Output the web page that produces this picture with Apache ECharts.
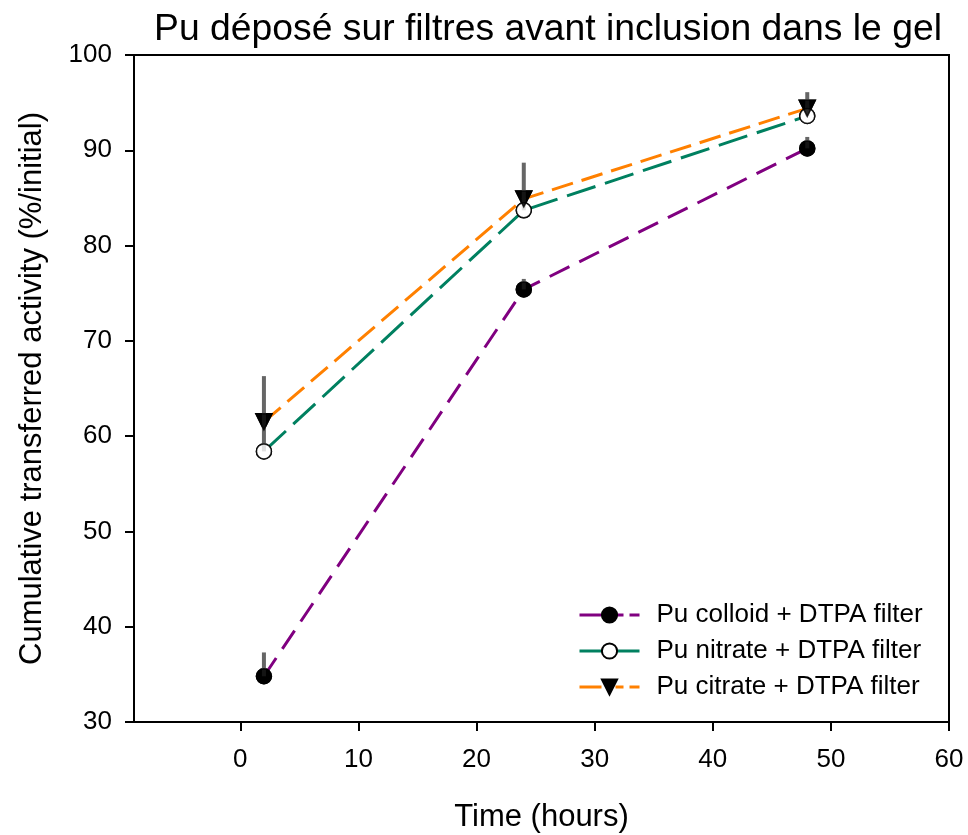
<!DOCTYPE html>
<html><head><meta charset="utf-8">
<script src="https://cdn.jsdelivr.net/npm/echarts@6/dist/echarts.min.js"></script>
<style>html,body{margin:0;padding:0;background:#fff}#c{width:968px;height:835px}</style>
</head><body><div id="c"></div>
<script>
const times = [2, 24, 48];
const colloid = [34.8, 75.4, 90.2];
const colloidErr = [37.3, 76.5, 91.4];
const nitrate = [58.4, 83.7, 93.6];
const nitrateErr = [62.0, 85.0, 94.8];
const citrate = [61.5, 84.9, 94.4];
const citrateErr = [66.3, 88.7, 96.1];
const xTicks = [0, 10, 20, 30, 40, 50, 60];
const names = ['Pu colloid + DTPA filter', 'Pu nitrate + DTPA filter', 'Pu citrate + DTPA filter'];

const FONT = 'Liberation Sans, Arial, sans-serif';
const pairs = (ys) => times.map((t, i) => [t, ys[i]]);
const errData = [];
[[colloid, colloidErr], [nitrate, nitrateErr], [citrate, citrateErr]].forEach(([v, e]) => {
  times.forEach((t, i) => errData.push([t, v[i], e[i]]));
});

const chart = echarts.init(document.getElementById('c'));
const lineStyles = [
  {color: '#800080', width: 3, type: [22, 11]},
  {color: '#008060', width: 3, type: [30, 10]},
  {color: '#FF8000', width: 3, type: [22, 9]}
];
const legendDash = [[22, 14, 8, 6], [24, 12], [22, 14, 8, 6]];
const symbols = ['circle', 'circle', 'triangle'];
const symFill = ['#000', '#fff', '#000'];
const datas = [colloid, nitrate, citrate];

const series = [];
datas.forEach((d, k) => {
  series.push({
    name: names[k], type: 'line', data: pairs(d), z: 1,
    lineStyle: lineStyles[k], itemStyle: {color: symFill[k], borderColor: '#000', borderWidth: 1.5},
    symbol: symbols[k], symbolSize: k === 2 ? 16 : 15, symbolRotate: k === 2 ? 180 : 0,
    color: lineStyles[k].color
  });
});
series.push({
  type: 'custom', name: 'err', z: 2, data: errData,
  renderItem: (params, api) => {
    const p0 = api.coord([api.value(0), api.value(1)]);
    const p1 = api.coord([api.value(0), api.value(2)]);
    return {type: 'line', shape: {x1: p0[0], y1: p0[1], x2: p1[0], y2: p1[1]}, style: {stroke: '#666', lineWidth: 4}};
  }
});
datas.forEach((d, k) => {
  series.push({
    name: 'm' + k, type: 'scatter', data: pairs(d), z: 3,
    symbol: symbols[k], symbolSize: k === 2 ? 16 : 15, symbolRotate: k === 2 ? 180 : 0,
    itemStyle: {color: symFill[k], borderColor: '#000', borderWidth: 1.5}
  });
});

chart.setOption({
  animation: false,
  title: {text: 'Pu déposé sur filtres avant inclusion dans le gel', left: 543, textAlign: 'center', top: 6,
    textStyle: {fontFamily: FONT, fontSize: 37.3, fontWeight: 'normal', color: '#000'}},
  grid: {left: 134, right: 19, top: 55, bottom: 113, show: true, borderColor: '#000', borderWidth: 2,
    backgroundColor: 'transparent', outerBoundsMode: 'none', containLabel: false},
  legend: {data: names.map((n, k) => ({name: n, lineStyle: {type: legendDash[k], width: 3, color: lineStyles[k].color}})),
    orient: 'vertical', left: 578, top: 602, padding: 0, itemGap: 10, itemWidth: 60, itemHeight: 19,
    textStyle: {fontFamily: FONT, fontSize: 26, color: '#000', padding: [0, 0, 0, 12]}},
  xAxis: {type: 'value', min: -9, max: 60, name: 'Time (hours)', nameLocation: 'middle', nameGap: 80,
    nameTextStyle: {fontFamily: FONT, fontSize: 31, color: '#000'},
    axisLine: {onZero: false, lineStyle: {color: '#000', width: 2}},
    axisTick: {show: true, length: 9, customValues: xTicks, lineStyle: {color: '#000', width: 2}},
    axisLabel: {customValues: xTicks, margin: 25, fontFamily: FONT, fontSize: 26, color: '#000'},
    splitLine: {show: false}},
  yAxis: {type: 'value', min: 30, max: 100, interval: 10, name: 'Cumulative transferred activity (%/initial)', nameLocation: 'middle', nameGap: 86,
    nameTextStyle: {fontFamily: FONT, fontSize: 31, color: '#000'},
    axisLine: {onZero: false, lineStyle: {color: '#000', width: 2}},
    axisTick: {show: true, length: 9, lineStyle: {color: '#000', width: 2}},
    axisLabel: {margin: 22, fontFamily: FONT, fontSize: 26, color: '#000'},
    splitLine: {show: false}},
  series: series
});
</script></body></html>
